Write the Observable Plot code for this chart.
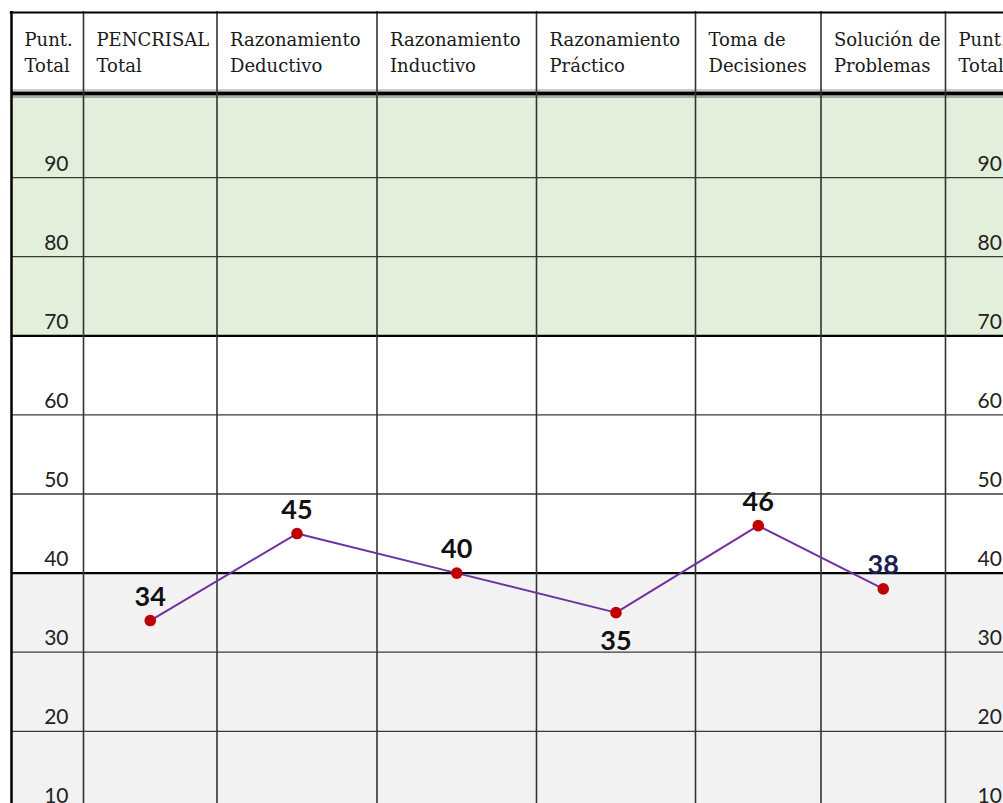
<!DOCTYPE html>
<html><head><meta charset="utf-8">
<script src="https://cdn.jsdelivr.net/npm/d3@7"></script>
<script src="https://cdn.jsdelivr.net/npm/@observablehq/plot@0.6"></script>
<style>
html,body{margin:0;padding:0;background:#fff;}
#wrap{width:1003px;height:803px;overflow:hidden;position:relative;}
#wrap svg{display:block;}
</style></head><body><div id="wrap"></div>
<script>
// ---- data ----
const headerLabels = ["Punt.\nTotal","PENCRISAL\nTotal","Razonamiento\nDeductivo","Razonamiento\nInductivo","Razonamiento\nPráctico","Toma de\nDecisiones","Solución de\nProblemas","Punt.\nTotal"];
const categories = ["PENCRISAL Total","Razonamiento Deductivo","Razonamiento Inductivo","Razonamiento Práctico","Toma de Decisiones","Solución de Problemas"];
const scores = [34,45,40,35,46,38];
const tickValues = [10,20,30,40,50,60,70,80,90];

// ---- layout (table structure) ----
const W = 1003;
const tableLeft = 11;
const colWidths = [72,133.5,160,159.5,159,125.5,124.5,72];
const edges = [tableLeft];
colWidths.forEach(w => edges.push(edges[edges.length-1] + w));
const yTop = 111;            // header top, in score units
const unit = 7.91;           // px per score point
const marginTop = 11;
const H = Math.round(marginTop + yTop * unit);
const labelSide = ["top","top","top","bottom","top","top"];
const labelColor = ["#111","#111","#111","#111","#111","#1c1f4f"];

const data = categories.map((c,i) => ({
  category: c,
  score: scores[i],
  x: (edges[i+1] + edges[i+2]) / 2,
  side: labelSide[i],
  color: labelColor[i]
}));

const green = "#e2efda", grey = "#f2f2f2";
const thin = tickValues.filter(v => v !== 40 && v !== 70);

const chart = Plot.plot({
  width: W, height: H,
  marginTop, marginBottom: 0, marginLeft: 0, marginRight: 0,
  x: {type: "linear", domain: [0, W], range: [0, W], axis: null},
  y: {domain: [0, yTop], axis: null},
  color: {type: "identity"},
  style: {background: "#fff", overflow: "visible"},
  marks: [
    Plot.rect([0], {x1: tableLeft, x2: W, y1: 100, y2: yTop, fill: "#fff"}),
    Plot.rect([0], {x1: tableLeft, x2: W, y1: 70, y2: 100, fill: green}),
    Plot.rect([0], {x1: tableLeft, x2: W, y1: 40, y2: 70, fill: "#fff"}),
    Plot.rect([0], {x1: tableLeft, x2: W, y1: 0, y2: 40, fill: grey}),
    Plot.ruleY(thin, {x1: tableLeft, x2: W, stroke: "#3a3a3a", strokeWidth: 1.3}),
    Plot.ruleY([40, 70], {x1: tableLeft, x2: W, stroke: "#000", strokeWidth: 2.2}),
    Plot.ruleY([100], {x1: tableLeft, x2: W, dy: -8.5, stroke: "#999", strokeWidth: 1}),
    Plot.ruleY([100], {x1: tableLeft, x2: W, dy: -1.5, stroke: "#aaa", strokeWidth: 2}),
    Plot.ruleY([100], {x1: tableLeft, x2: W, dy: -5, stroke: "#000", strokeWidth: 4}),
    Plot.ruleX(edges.slice(1), {y1: 0, y2: yTop, stroke: "#333", strokeWidth: 1.6}),
    Plot.ruleY([yTop], {x1: tableLeft - 1.2, x2: W, dy: 1, stroke: "#000", strokeWidth: 2}),
    Plot.ruleX([tableLeft], {y1: 0, y2: yTop, dy: 0, stroke: "#000", strokeWidth: 2.5}),
    Plot.text(headerLabels, {
      x: (d, i) => edges[i] + 13, y: yTop, dy: 60,
      lineAnchor: "bottom", textAnchor: "start", lineHeight: 26/18,
      fontFamily: "DejaVu Serif", fontSize: 18, fill: "#1a1a1a"
    }),
    Plot.text(tickValues, {
      x: edges[1] - 15, y: d => d, dy: -7, text: d => String(d),
      lineAnchor: "bottom", textAnchor: "end",
      fontFamily: "Lato", fontSize: 21, fill: "#222"
    }),
    Plot.text(tickValues, {
      x: edges[7] + 32, y: d => d, dy: -7, text: d => String(d),
      lineAnchor: "bottom", textAnchor: "start",
      fontFamily: "Lato", fontSize: 21, fill: "#222"
    }),
    Plot.line(data, {x: "x", y: "score", stroke: "#7030a0", strokeWidth: 2}),
    Plot.dot(data, {x: "x", y: "score", r: 5.8, fill: "#c00000", stroke: "none"}),
    Plot.text(data.filter(d => d.side === "top"), {
      x: "x", y: "score", text: d => String(d.score), dy: -15,
      lineAnchor: "bottom", fontFamily: "Lato", fontWeight: 700, fontSize: 27, fill: "color"
    }),
    Plot.text(data.filter(d => d.side === "bottom"), {
      x: "x", y: "score", text: d => String(d.score), dy: 18,
      lineAnchor: "top", fontFamily: "Lato", fontWeight: 700, fontSize: 27, fill: "color"
    })
  ]
});
document.getElementById("wrap").appendChild(chart);
</script></body></html>
